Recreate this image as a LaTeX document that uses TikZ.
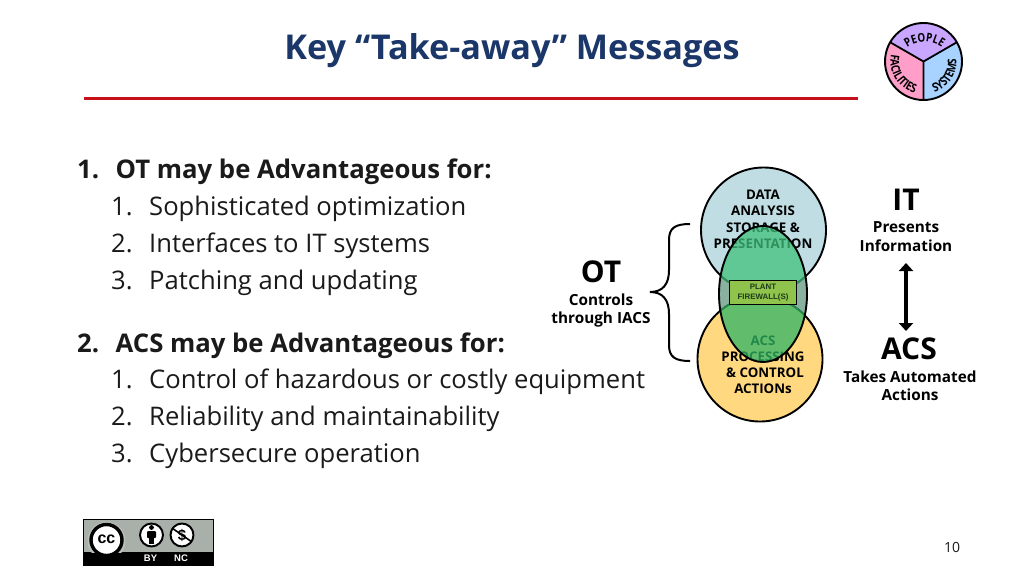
\documentclass[tikz,border=0pt]{standalone}
\usepackage{fontspec}
\setmainfont{Open Sans}
\newfontfamily\arialf{Liberation Sans}
\newfontfamily\pief[FakeStretch=0.82]{Open Sans}
\usetikzlibrary{decorations.text,arrows.meta}
\definecolor{titleblue}{HTML}{1B3668}
\definecolor{redline}{HTML}{C8101A}
\definecolor{bodyk}{HTML}{1A1A1A}
\definecolor{topc}{HTML}{BFDDE3}
\definecolor{botc}{HTML}{FFD87F}
\definecolor{midc}{HTML}{8AB0A0}
\definecolor{topmix}{HTML}{3FC17C}
\definecolor{botmix}{HTML}{2DB565}
\definecolor{fwc}{HTML}{8FC34C}
\definecolor{fwt}{HTML}{1E3A1A}
\definecolor{pc}{HTML}{C9A6FF}
\definecolor{fc}{HTML}{FF9EC8}
\definecolor{sc}{HTML}{A8D2FF}
\definecolor{ccg}{HTML}{A9AFA9}
\tikzset{
  x=1pt,y=-1pt,
  head/.style={anchor=base west,inner sep=0pt,font=\fontsize{25.7}{25.7}\selectfont\bfseries,text=bodyk},
  item/.style={anchor=base west,inner sep=0pt,font=\fontsize{25.6}{25.6}\selectfont,text=bodyk},
  circ/.style={inner sep=0pt,font=\fontsize{13.3}{13.3}\selectfont\bfseries,text=black},
  big/.style={inner sep=0pt,font=\fontsize{30}{30}\selectfont\bfseries,text=black},
  small/.style={inner sep=0pt,font=\fontsize{15.3}{15.3}\selectfont\bfseries,text=black},
  ring/.style={draw=black,line width=1.9pt},
  ptext/.style={decorate,decoration={text along path,text align=center,
     text={|\pief\fontsize{12}{12}\selectfont\bfseries|#1}}}
}
\begin{document}
\begin{tikzpicture}
\useasboundingbox (0,0) rectangle (1024,576);
\fill[white] (0,0) rectangle (1024,576);
% title
\node[inner sep=0pt,text=titleblue,font=\fontsize{34.2}{34.2}\selectfont\bfseries] (title) at (512,51) {Key “Take-away” Messages};
\coordinate (rl) at (84,98); \coordinate (rr) at (858,98);
\draw[redline,line width=3pt] (rl) -- (rr);
% body text
\node[head] (n1) at (77,178) {1.};
\node[head] (h1) at (115.5,178) {OT may be Advantageous for:};
\node[item] (a1) at (111,215) {1.};
\node[item] (a1t) at (149,215) {Sophisticated optimization};
\node[item] (a2) at (111,252) {2.};
\node[item] (a2t) at (149,252) {Interfaces to IT systems};
\node[item] (a3) at (111,289) {3.};
\node[item] (a3t) at (149,289) {Patching and updating};
\node[head] (n2) at (77,352) {2.};
\node[head] (h2) at (115.5,352) {ACS may be Advantageous for:};
\node[item] (b1) at (111,388) {1.};
\node[item] (b1t) at (149,388) {Control of hazardous or costly equipment};
\node[item] (b2) at (111,425) {2.};
\node[item] (b2t) at (149,425) {Reliability and maintainability};
\node[item] (b3) at (111,462) {3.};
\node[item] (b3t) at (149,462) {Cybersecure operation};
% venn
\fill[midc] (763,294) ellipse [x radius=44,y radius=68];
\fill[topc] (763.5,230) circle (62.5);
\fill[botc] (760,359) circle (62.5);
\draw[ring] (763.5,230) circle (62.5);
\draw[ring] (760,359) circle (62.5);
\node[circ] (d1) at (763,194.5) {DATA};
\node[circ] (d2) at (763,211) {ANALYSIS};
\node[circ] (d3) at (763,227.5) {STORAGE \&};
\node[circ] (d4) at (763,243.5) {PRESENTATION};
\node[circ] (c1) at (763,340.5) {ACS};
\node[circ] (c2) at (763,356.5) {PROCESSING};
\node[circ] (c3) at (765,372.5) {\& CONTROL};
\node[circ] (c4) at (763,388.5) {ACTIONs};
\begin{scope}
  \clip (763,294) ellipse [x radius=44,y radius=68];
  \fill[topmix,fill opacity=.75] (763.5,230) circle (63.5);
  \fill[botmix,fill opacity=.75] (760,359) circle (63.5);
\end{scope}
\draw[ring] (763,294) ellipse [x radius=44,y radius=68];
\node[draw=black,line width=1.5pt,fill=fwc,minimum width=67pt,minimum height=24pt,inner sep=0pt,align=center,
  font=\arialf\fontsize{7.9}{9.5}\selectfont\bfseries,text=fwt] (fw) at (763,292.5) {PLANT\\FIREWALL(S)};
% bracket
\node[big] (ot) at (601,272) {OT};
\node[small] (ot1) at (601,299.5) {Controls};
\node[small] (ot2) at (601,319.5) {through IACS};
\coordinate (bt) at (690,224); \coordinate (btip) at (650,292); \coordinate (bb) at (690,361);
\draw[black,line width=2pt] (bt) .. controls (675,224) and (669,228) .. (669,240) -- (669,270)
  .. controls (669,284) and (663,292) .. (btip) .. controls (663,292) and (669,300) .. (669,314)
  -- (669,345) .. controls (669,357) and (675,361) .. (bb);
% right labels
\node[big] (it) at (906,200) {IT};
\node[small] (it1) at (906,227.5) {Presents};
\node[small] (it2) at (906,245.5) {Information};
\node[big] (acs) at (909,349) {ACS};
\node[small] (acs1) at (910,376.5) {Takes Automated};
\node[small] (acs2) at (910,394.5) {Actions};
\draw[black,line width=3.6pt,{Triangle[width=14pt,length=8pt]}-{Triangle[width=14pt,length=8pt]}] (906,263) -- (906,331);
% pie
\coordinate (pc) at (923.5,61.5);
\coordinate (pl) at (924.5,71);
\fill[pc] (pc) -- ++(-150:38.5) arc[start angle=-150,end angle=-30,radius=38.5] -- cycle;
\fill[fc] (pc) -- ++(-150:38.5) arc[start angle=-150,end angle=-270,radius=38.5] -- cycle;
\fill[sc] (pc) -- ++(-30:38.5) arc[start angle=-30,end angle=90,radius=38.5] -- cycle;
\draw[black,line width=1.8pt] (pc) -- ++(-150:38.5) (pc) -- ++(-30:38.5) (pc) -- ++(90:38.5);
\draw[black,line width=1.9pt] (pc) circle (38.5);
\path[ptext={PEOPLE}] (pl) ++(-140:29) arc[start angle=-140,end angle=-40,radius=29];
\path[ptext={FACILITIES}] (pc) ++(-150:33) arc[start angle=-150,end angle=-272,radius=33];
\path[ptext={SYSTEMS}] (pc) ++(88:33) arc[start angle=88,end angle=-22,radius=33];
% cc
\fill[ccg] (83,519) rectangle (213,552);
\fill[black] (83,552) rectangle (213,565);
\draw[black,line width=.8pt] (83,519) rectangle (213,565);
\begin{scope}
  \clip (83,519) rectangle (213,552);
  \fill[ccg!80!white] (106.5,541) circle (19);
\end{scope}
\fill[white] (106.5,540) circle (16.5);
\draw[black,line width=3.4pt] (106.5,540) circle (15.5);
\node[inner sep=0pt,font=\arialf\fontsize{16}{16}\selectfont\bfseries] (cc) at (106.5,539) {cc};
\fill[white] (151.5,535) circle (12.5);
\draw[black,line width=2pt] (151.5,535) circle (11.5);
\fill[black] (151.5,527.5) circle (2.4);
\fill[black,rounded corners=1pt] (147,531) rectangle (156,538);
\fill[black] (149.3,537) rectangle (153.7,544);
\fill[white] (182,535) circle (12.5);
\draw[black,line width=2pt] (182,535) circle (11.5);
\node[inner sep=0pt,font=\arialf\fontsize{15}{15}\selectfont\bfseries] (dl) at (182,535) {\$};
\draw[black,line width=1.6pt] (172,528) -- (192,542);
\node[inner sep=0pt,text=white,font=\arialf\fontsize{9.5}{9.5}\selectfont\bfseries] (by) at (150.5,558.5) {BY};
\node[inner sep=0pt,text=white,font=\arialf\fontsize{9.5}{9.5}\selectfont\bfseries] (nc) at (181,558.5) {NC};
% page
\node[inner sep=0pt,text=bodyk,font=\fontsize{14}{14}\selectfont] (pg) at (952,547) {10};
\end{tikzpicture}
\end{document}
